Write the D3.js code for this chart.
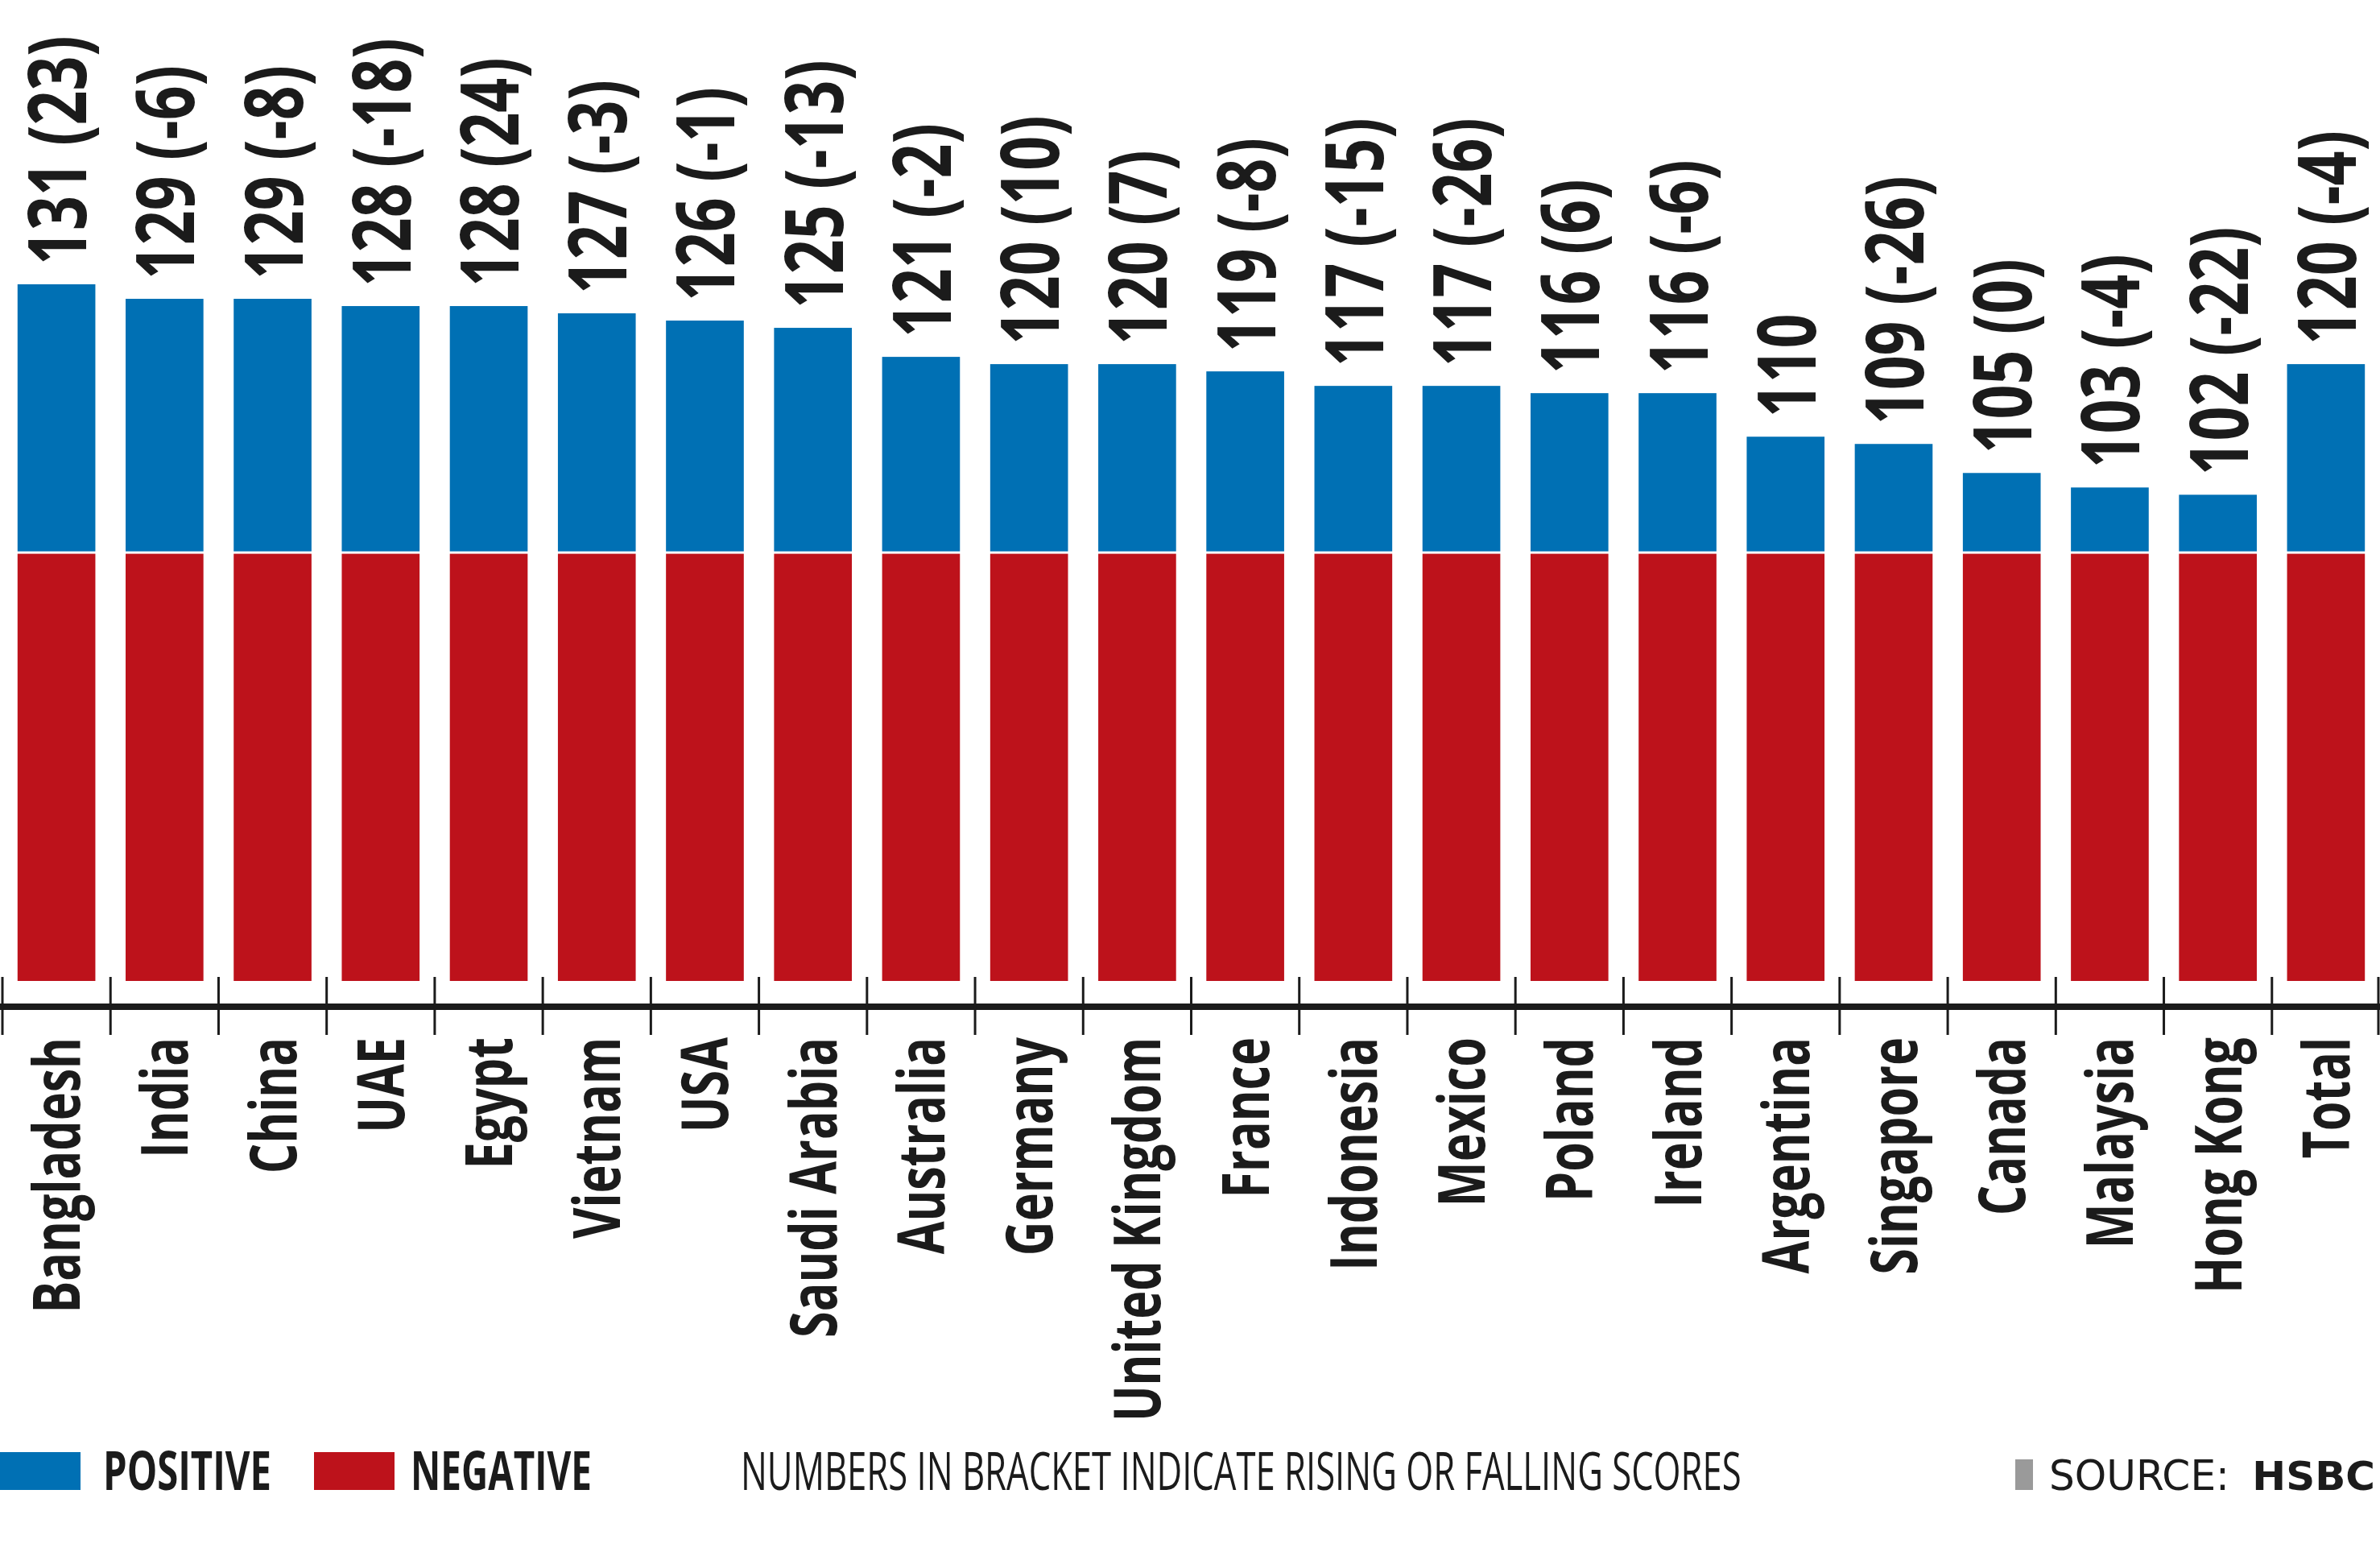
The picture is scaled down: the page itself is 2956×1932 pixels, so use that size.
<!DOCTYPE html>
<html><head><meta charset="utf-8">
<script src="https://cdn.jsdelivr.net/npm/d3@7/dist/d3.min.js"></script>
<style>html,body{margin:0;padding:0;background:#fff;overflow:hidden}</style>
</head><body>
<svg id="chart" width="2956" height="1932"></svg>
<script>
// ---- data ----
const categories = ["Bangladesh","India","China","UAE","Egypt","Vietnam","USA","Saudi Arabia","Australia","Germany","United Kingdom","France","Indonesia","Mexico","Poland","Ireland","Argentina","Singapore","Canada","Malaysia","Hong Kong","Total"];
const scores  = [131,129,129,128,128,127,126,125,121,120,120,119,117,117,116,116,110,109,105,103,102,120];
const changes = [23,-6,-8,-18,24,-3,-1,-13,-2,10,7,-8,-15,-26,6,-6,null,-26,0,-4,-22,-4];
const splitLevel = 94.2;   // level where the red (negative) block ends
const floorLevel = 35;     // bottom of the red block
const legendLabels = ["POSITIVE","NEGATIVE"];
const noteText = "NUMBERS IN BRACKET INDICATE RISING OR FALLING SCORES";
const sourceLabel = "SOURCE:";
const sourceName = "HSBC";

// ---- styles ----
const BLUE = "#0070b4", RED = "#bd121b", INK = "#1b1b1b";
const svg = d3.select("#chart");

const x = d3.scaleBand().domain(categories).range([3, 2956]).paddingInner(0.28).paddingOuter(0.14);
const xb = d3.scaleBand().domain(categories).range([3, 2956]);
const y = d3.scaleLinear().domain([floorLevel, d3.max(scores)]).range([1218, 353]);

const data = categories.map((c, i) => ({c, v: scores[i], ch: changes[i]}));

// bars
svg.append("g").selectAll("rect").data(data).join("rect")
  .attr("x", d => x(d.c)).attr("width", x.bandwidth())
  .attr("y", d => y(d.v)).attr("height", d => y(splitLevel) - y(d.v))
  .attr("fill", BLUE);
svg.append("g").selectAll("rect").data(data).join("rect")
  .attr("x", d => x(d.c)).attr("width", x.bandwidth())
  .attr("y", y(splitLevel) + 3).attr("height", y(floorLevel) - y(splitLevel) - 3)
  .attr("fill", RED);

// axis line + ticks at band boundaries
svg.append("line").attr("x1", 0).attr("x2", 2956).attr("y1", 1250).attr("y2", 1250)
  .attr("stroke", INK).attr("stroke-width", 8);
const bounds = categories.map(c => xb(c)).concat([xb.range()[1] - 2]);
svg.append("g").selectAll("line").data(bounds).join("line")
  .attr("x1", d => d).attr("x2", d => d).attr("y1", 1213).attr("y2", 1285)
  .attr("stroke", INK).attr("stroke-width", 3);

// country labels
svg.append("g").selectAll("text").data(data).join("text")
  .attr("transform", d => `translate(${x(d.c) + x.bandwidth()/2 + 29},1288) rotate(-90) scale(0.74,1)`)
  .attr("text-anchor", "end")
  .attr("font-family", "'Open Sans', sans-serif").attr("font-weight", 700)
  .attr("font-size", 80).attr("fill", INK)
  .text(d => d.c);

// value labels
svg.append("g").selectAll("text").data(data).join("text")
  .attr("transform", d => `translate(${x(d.c) + x.bandwidth()/2 + 37},${y(d.v) - 24}) rotate(-90) scale(0.75,1)`)
  .attr("text-anchor", "start")
  .attr("font-family", "'Open Sans', sans-serif").attr("font-weight", 700)
  .attr("font-size", 100).attr("fill", INK)
  .text(d => d.ch === null ? `${d.v}` : `${d.v} (${d.ch})`);

// helper: text squeezed horizontally to a target width
function fitText(g, str, x0, y0, width, opts) {
  const t = g.append("text")
    .attr("font-family", opts.family).attr("font-weight", opts.weight)
    .attr("font-size", opts.size).attr("fill", INK).text(str);
  const natural = t.node().getComputedTextLength();
  t.attr("transform", `translate(${x0},${y0}) scale(${width / natural},1)`);
  return t;
}

// legend
const lg = svg.append("g");
const swatches = [{x:0, c:BLUE, tx:128, tl:209}, {x:390, c:RED, tx:510, tl:225}];
legendLabels.forEach((t, i) => {
  const s = swatches[i];
  lg.append("rect").attr("x", s.x).attr("y", 1803).attr("width", 100).attr("height", 47).attr("fill", s.c);
  fitText(lg, t, s.tx, 1850, s.tl, {family: "'Open Sans', sans-serif", weight: 700, size: 66});
});
fitText(lg, noteText, 920, 1850, 1243, {family: "'Open Sans', sans-serif", weight: 400, size: 66});
lg.append("rect").attr("x", 2503).attr("y", 1812).attr("width", 22).attr("height", 38).attr("fill", "#9a9a9a");
fitText(lg, sourceLabel, 2545, 1850, 224, {family: "'DejaVu Sans', sans-serif", weight: 400, size: 51});
lg.append("text").attr("x", 2950).attr("y", 1850).attr("text-anchor", "end")
  .attr("font-family", "'DejaVu Sans', sans-serif").attr("font-weight", 700).attr("font-size", 50).attr("fill", INK)
  .text(sourceName);
</script>
</body></html>
